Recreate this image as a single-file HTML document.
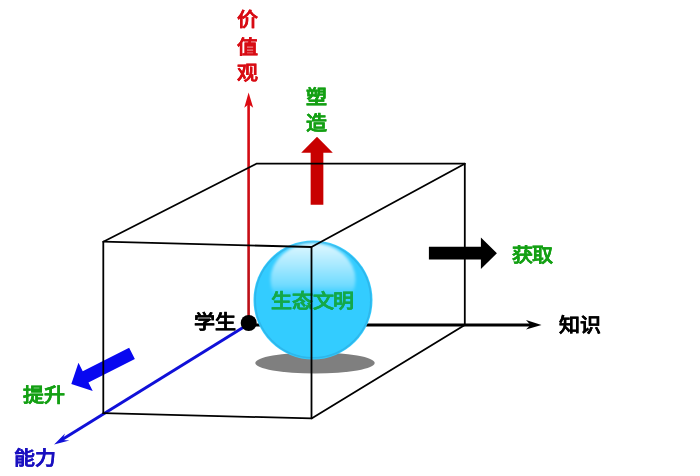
<!DOCTYPE html>
<html lang="zh-CN">
<head>
<meta charset="utf-8">
<style>
html,body{margin:0;padding:0;background:#fff;width:700px;height:476px;overflow:hidden;}
svg{display:block;filter:blur(0.3px);}
text{font-family:"Liberation Sans",sans-serif;font-weight:bold;stroke-width:0.15px;font-size:21px;}
</style>
</head>
<body>
<svg width="700" height="476" viewBox="0 0 700 476">
<defs>
<linearGradient id="hl" x1="0" y1="0" x2="0" y2="1">
<stop offset="0" stop-color="#fff" stop-opacity="0.85"/>
<stop offset="0.3" stop-color="#fff" stop-opacity="0.57"/>
<stop offset="0.57" stop-color="#fff" stop-opacity="0.3"/>
<stop offset="0.66" stop-color="#fff" stop-opacity="0.1"/>
<stop offset="0.72" stop-color="#fff" stop-opacity="0"/>
</linearGradient>
<filter id="blur" x="-20%" y="-20%" width="140%" height="140%"><feGaussianBlur stdDeviation="1.5"/></filter>
<filter id="blur2" x="-20%" y="-20%" width="140%" height="140%"><feGaussianBlur stdDeviation="0.6"/></filter>
<linearGradient id="rg" gradientUnits="userSpaceOnUse" x1="0" y1="100" x2="0" y2="322"><stop offset="0" stop-color="#dc0a12"/><stop offset="1" stop-color="#b81018"/></linearGradient>
</defs>
<rect width="700" height="476" fill="#fff"/>

<!-- shadow -->
<ellipse cx="315" cy="363" rx="59.7" ry="10.5" fill="#7f7f7f"/>

<!-- black knowledge axis -->
<line x1="249" y1="325" x2="531" y2="325" stroke="#000" stroke-width="3"/>
<polygon points="541.5,325 526,320 530.5,325 526,329.5" fill="#000"/>

<!-- sphere -->
<circle cx="313" cy="300" r="59.5" fill="#33ccff"/>
<circle cx="313" cy="300" r="57.8" fill="none" stroke="#2aa6dc" stroke-width="1.6" opacity="0.55" filter="url(#blur2)"/>
<ellipse cx="313" cy="280" rx="42.5" ry="37" fill="url(#hl)" filter="url(#blur)"/>

<text transform="translate(271,308) scale(1,0.92)" fill="#14a84a" stroke="#14a84a">生态文明</text>

<!-- red axis -->
<rect x="247.3" y="103" width="2.6" height="219" fill="url(#rg)"/>
<polygon points="248.6,92.6 244.3,107.7 248.6,104.3 253.2,107.7" fill="#dc0a12"/>

<!-- blue axis -->
<line x1="248.7" y1="324" x2="61" y2="440.3" stroke="#1010d8" stroke-width="3"/>
<polygon points="54.1,444.4 65,433.4 62.5,439.9 69.4,440.5" fill="#1010d8"/>

<!-- thick arrows -->
<polygon points="0,-6.35 52,-6.35 52,-15.8 68,0 52,15.8 52,6.35 0,6.35" fill="#c80000" transform="translate(317,204.8) rotate(-90)"/>
<polygon points="0,-6.35 52,-6.35 52,-15.8 68,0 52,15.8 52,6.35 0,6.35" fill="#000" transform="translate(428.9,253.2)"/>
<polygon points="0,-6.35 52,-6.35 52,-15.8 68,0 52,15.8 52,6.35 0,6.35" fill="#0808f0" transform="translate(132,353.35) rotate(153.17)"/>

<!-- box -->
<g stroke="#000" stroke-width="1.8" fill="none" stroke-linejoin="round" stroke-linecap="round">
<polyline points="103.3,413.2 103.3,241.7 256.4,163.7 464.8,163.7 464.8,325"/>
<polyline points="103.3,241.7 311.5,247 464.8,163.7"/>
<polyline points="311.5,247 311.5,418.4 103.3,413.2"/>
<polyline points="311.5,418.4 464.8,325"/>
</g>

<!-- dot -->
<circle cx="248.7" cy="323" r="8" fill="#000"/>

<!-- labels -->
<text transform="translate(237,26) scale(1,0.92)" fill="#d80c14" stroke="#d80c14">价</text>
<text transform="translate(237,54) scale(1,0.92)" fill="#d80c14" stroke="#d80c14">值</text>
<text transform="translate(237,80) scale(1,0.92)" fill="#d80c14" stroke="#d80c14">观</text>
<text transform="translate(305.7,103.5) scale(1,0.92)" fill="#14a014" stroke="#14a014">塑</text>
<text transform="translate(305.7,130) scale(1,0.92)" fill="#14a014" stroke="#14a014">造</text>
<text transform="translate(511.5,262) scale(1,0.92)" fill="#14a014" stroke="#14a014">获取</text>
<text transform="translate(559,332) scale(1,0.92)" fill="#000" stroke="#000">知识</text>
<text transform="translate(194,329) scale(1,0.92)" fill="#000" stroke="#000">学生</text>
<text transform="translate(23,401.5) scale(1,0.92)" fill="#14a014" stroke="#14a014">提升</text>
<text transform="translate(14,464.5) scale(1,0.92)" fill="#1a10c0" stroke="#1a10c0">能力</text>
</svg>
</body>
</html>
